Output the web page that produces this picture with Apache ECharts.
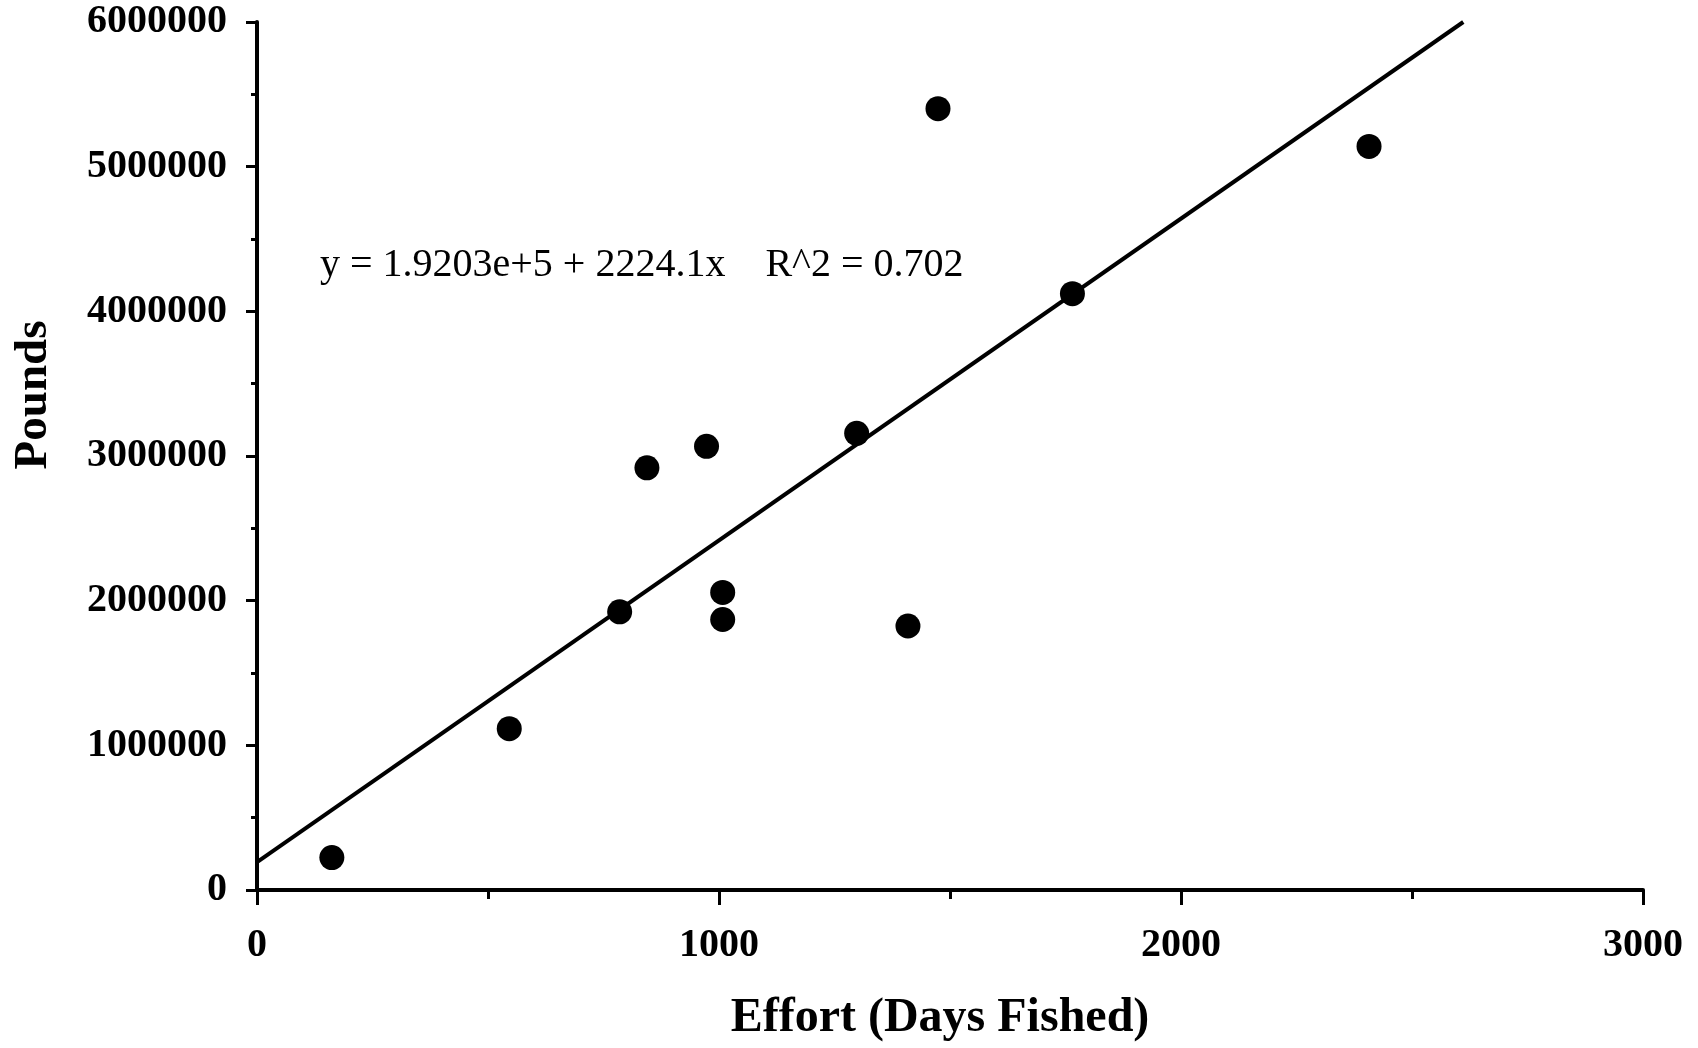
<!DOCTYPE html>
<html>
<head>
<meta charset="utf-8">
<script src="https://cdn.jsdelivr.net/npm/echarts@6/dist/echarts.min.js"></script>
<style>
  html, body { margin: 0; padding: 0; background: #fff; }
  #chart { width: 1698px; height: 1048px; }
</style>
</head>
<body>
<div id="chart"></div>
<script>
// observed points (effort in days fished, catch in pounds)
var effort = [162, 546, 785, 844, 973, 1008, 1008, 1298, 1409, 1474, 1765, 2407]
var pounds = [224000, 1115000, 1923000, 2918000, 3067000, 2057000, 1870000, 3157000, 1825000, 5401000, 4122000, 5140000]

// fitted line ends, as drawn
var fitX = [0, 2611]
var fitY = [192030, 6000000]

var equationText = 'y = 1.9203e+5 + 2224.1x    R^2 = 0.702'

var serif = '"Liberation Serif", "Times New Roman", serif'

var points = effort.map(function(x, i) { return [x, pounds[i]] })
var fitLine = fitX.map(function(x, i) { return [x, fitY[i]] })

var chart = echarts.init(document.getElementById('chart'))
chart.setOption({
  backgroundColor: '#fff',
  animation: false,
  grid: {
    left: 257,
    right: 55,
    top: 22,
    bottom: 158,
    containLabel: false
  },
  xAxis: {
    type: 'value',
    min: 0,
    max: 3000,
    interval: 1000,
    name: 'Effort (Days Fished)',
    nameLocation: 'middle',
    nameGap: 105,
    nameTextStyle: {
      fontFamily: serif,
      fontWeight: 'bold',
      fontSize: 48,
      color: '#000',
      padding: [0, 20, 0, 0]
    },
    axisLine: { show: true, lineStyle: { color: '#000', width: 4 } },
    axisTick: { show: true, inside: false, length: 15, lineStyle: { color: '#000', width: 3 } },
    minorTick: { show: true, splitNumber: 2, length: 9, lineStyle: { color: '#000', width: 3 } },
    splitLine: { show: false },
    axisLabel: {
      margin: 36,
      fontFamily: serif,
      fontWeight: 'bold',
      fontSize: 40,
      color: '#000',
      formatter: function(v) { return String(v) }
    }
  },
  yAxis: {
    type: 'value',
    min: 0,
    max: 6000000,
    interval: 1000000,
    axisLine: { show: true, lineStyle: { color: '#000', width: 4 } },
    axisTick: { show: true, inside: false, length: 11, lineStyle: { color: '#000', width: 3 } },
    minorTick: { show: true, splitNumber: 2, length: 6, lineStyle: { color: '#000', width: 3 } },
    splitLine: { show: false },
    axisLabel: {
      margin: 30,
      fontFamily: serif,
      fontWeight: 'bold',
      fontSize: 40,
      color: '#000',
      formatter: function(v) { return String(v) }
    }
  },
  graphic: [
    {
      type: 'text',
      x: 34,
      y: 395,
      rotation: Math.PI / 2,
      style: {
        text: 'Pounds',
        fontFamily: serif,
        fontWeight: 'bold',
        fontSize: 47,
        fill: '#000',
        textAlign: 'center',
        textVerticalAlign: 'middle'
      }
    },
    {
      type: 'text',
      x: 320,
      y: 265,
      style: {
        text: equationText,
        fontFamily: serif,
        fontSize: 40,
        fill: '#000',
        textAlign: 'left',
        textVerticalAlign: 'middle'
      }
    }
  ],
  series: [
    {
      type: 'line',
      data: fitLine,
      symbol: 'none',
      lineStyle: { color: '#000', width: 4 },
      z: 2
    },
    {
      type: 'scatter',
      data: points,
      symbol: 'circle',
      symbolSize: 25,
      itemStyle: { color: '#000', opacity: 1 },
      z: 3
    }
  ]
})
</script>
</body>
</html>
